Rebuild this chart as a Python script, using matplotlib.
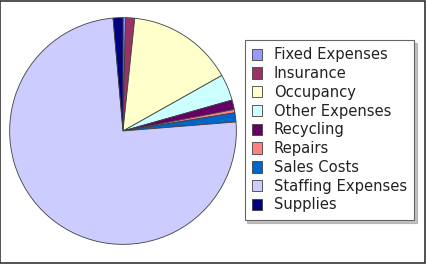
import matplotlib
matplotlib.use('Agg')
import matplotlib.pyplot as plt
from matplotlib.patches import Rectangle

# Expense categories and their share (percent)
categories = ['Fixed Expenses', 'Insurance', 'Occupancy', 'Other Expenses',
              'Recycling', 'Repairs', 'Sales Costs', 'Staffing Expenses', 'Supplies']
shares = [0.36, 1.3, 15.2, 3.75, 1.36, 0.47, 1.3, 74.9, 1.4]
colors = ['#9999FF', '#993366', '#FFFFCC', '#CCFFFF', '#660066',
          '#FF8080', '#0066CC', '#CCCCFF', '#000080']

fig = plt.figure(figsize=(4.26, 2.64), dpi=100)
W, H = 426, 264

# pie area: centre (123,131), radius ~114.5 px
cx, cy, r = 123, 131, 114.5
ax = fig.add_axes([(cx - r) / W, (H - cy - r) / H, 2 * r / W, 2 * r / H])
wedges, _ = ax.pie(shares, colors=colors, startangle=90, counterclock=False,
                   radius=1, wedgeprops=dict(edgecolor='#404040', linewidth=0.6))
ax.set_xlim(-1.01, 1.01)
ax.set_ylim(-1.01, 1.01)
ax.axis('off')

leg = fig.legend(wedges, categories, loc='upper left',
                 bbox_to_anchor=(244.5 / W, 1 - 40 / H), borderaxespad=0,
                 fontsize=10.6, frameon=True, fancybox=False,
                 shadow={'color': '#999999', 'alpha': 0.6},
                 handlelength=0.68, handleheight=0.82, handletextpad=0.8,
                 labelspacing=0.255, borderpad=0.5)
leg.get_frame().set_edgecolor('#666666')
leg.get_frame().set_linewidth(0.8)
for t in leg.get_texts():
    t.set_color('#222222')

# outer border
fig.patches.append(Rectangle((0.001, 0.002), 0.996, 0.994, transform=fig.transFigure,
                             fill=False, edgecolor='#333333', linewidth=1.2))

fig.savefig('out.png', dpi=100)
